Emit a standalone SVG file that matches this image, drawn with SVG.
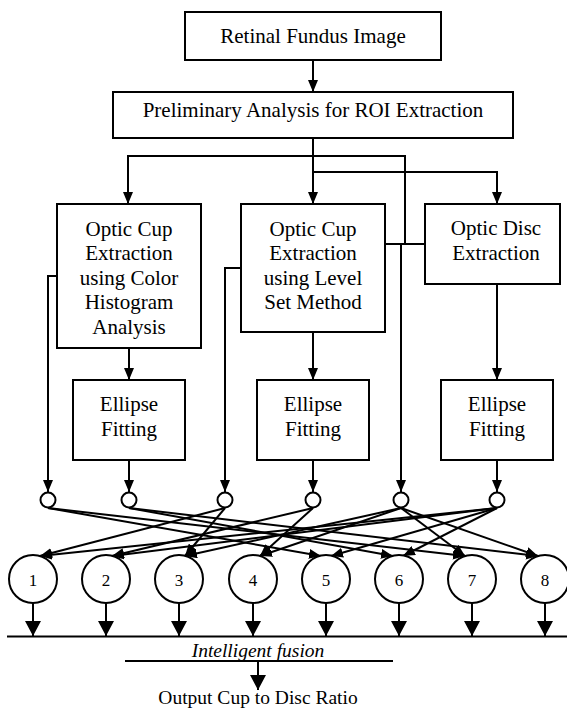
<svg xmlns="http://www.w3.org/2000/svg" width="567" height="709" viewBox="0 0 567 709">
<style>
.box{fill:#fff;stroke:#000;stroke-width:2}
.sc{fill:#fff;stroke:#000;stroke-width:2}
.bc{fill:#fff;stroke:#000;stroke-width:2}
.t{font-family:"Liberation Serif","Times New Roman",serif;font-size:21px;fill:#000;text-anchor:middle}
.n{font-family:"Liberation Serif","Times New Roman",serif;font-size:17px;fill:#000;text-anchor:middle}
.it{font-family:"Liberation Serif","Times New Roman",serif;font-size:19.5px;font-style:italic;fill:#000;text-anchor:middle}
.ln{fill:none;stroke:#000;stroke-width:2}
.a{fill:none;stroke:#000;stroke-width:2;marker-end:url(#ah)}
.ab{fill:none;stroke:#000;stroke-width:2;marker-end:url(#big)}
</style>
<defs>
<marker id="ah" viewBox="0 0 12 10" refX="12" refY="5" markerWidth="12" markerHeight="10" markerUnits="userSpaceOnUse" orient="auto"><path d="M0,0 L12,5 L0,10 z" fill="#000"/></marker>
<marker id="big" viewBox="0 0 15 16" refX="15" refY="8" markerWidth="15" markerHeight="16" markerUnits="userSpaceOnUse" orient="auto"><path d="M0,0 L15,8 L0,16 z" fill="#000"/></marker>
</defs>
<rect width="567" height="709" fill="#fff"/>
<g id="connectors">
<line class="a" x1="313" y1="60" x2="313" y2="92"/>
<line class="a" x1="313" y1="138" x2="313" y2="204"/>
<polyline class="a" points="405,244 405,156 128,156 128,204"/>
<polyline class="a" points="313,172 497,172 497,204"/>
<line class="ln" x1="385" y1="244" x2="425" y2="244"/>
<line class="a" x1="401" y1="244" x2="401" y2="492"/>
<line class="a" x1="129" y1="348" x2="129" y2="380"/>
<line class="a" x1="313" y1="332" x2="313" y2="380"/>
<line class="a" x1="497" y1="284" x2="497" y2="380"/>
<polyline class="a" points="57,276 48,276 48,492"/>
<line class="a" x1="129" y1="460" x2="129" y2="492"/>
<polyline class="a" points="241,268 225,268 225,492"/>
<line class="a" x1="313" y1="460" x2="313" y2="492"/>
<line class="a" x1="497" y1="460" x2="497" y2="492"/>
<line class="a" x1="48" y1="508" x2="321" y2="556"/>
<line class="a" x1="48" y1="508" x2="465" y2="556"/>
<line class="a" x1="129" y1="508" x2="393" y2="556"/>
<line class="a" x1="129" y1="508" x2="538" y2="556"/>
<line class="a" x1="225" y1="508" x2="40" y2="556"/>
<line class="a" x1="225" y1="508" x2="185" y2="556"/>
<line class="a" x1="313" y1="508" x2="112" y2="556"/>
<line class="a" x1="313" y1="508" x2="260" y2="556"/>
<line class="a" x1="401" y1="508" x2="185" y2="556"/>
<line class="a" x1="401" y1="508" x2="260" y2="556"/>
<line class="a" x1="401" y1="508" x2="465" y2="556"/>
<line class="a" x1="401" y1="508" x2="538" y2="556"/>
<line class="a" x1="497" y1="508" x2="40" y2="556"/>
<line class="a" x1="497" y1="508" x2="112" y2="556"/>
<line class="a" x1="497" y1="508" x2="331" y2="556"/>
<line class="a" x1="497" y1="508" x2="403" y2="556"/>
<line class="ab" x1="33" y1="603" x2="33" y2="636"/>
<line class="ab" x1="106" y1="603" x2="106" y2="636"/>
<line class="ab" x1="179" y1="603" x2="179" y2="636"/>
<line class="ab" x1="253" y1="603" x2="253" y2="636"/>
<line class="ab" x1="326" y1="603" x2="326" y2="636"/>
<line class="ab" x1="399" y1="603" x2="399" y2="636"/>
<line class="ab" x1="472" y1="603" x2="472" y2="636"/>
<line class="ab" x1="545" y1="603" x2="545" y2="636"/>
<line class="ln" x1="7" y1="636.5" x2="567" y2="636.5"/>
<line class="ln" x1="125" y1="661" x2="393" y2="661"/>
<line class="ab" x1="258" y1="661" x2="258" y2="690"/>
</g>
<g id="retinal"><rect class="box" x="185" y="12" width="256" height="48"/><text class="t" x="313" y="43">Retinal Fundus Image</text></g>
<g id="roi"><rect class="box" x="113" y="92" width="400" height="46"/><text class="t" x="313" y="117">Preliminary Analysis for ROI Extraction</text></g>
<g id="cup-color"><rect class="box" x="57" y="204" width="144" height="144"/><text class="t" x="129" y="236">Optic Cup</text><text class="t" x="129" y="260">Extraction</text><text class="t" x="129" y="285">using Color</text><text class="t" x="129" y="309">Histogram</text><text class="t" x="129" y="334">Analysis</text></g>
<g id="cup-level"><rect class="box" x="241" y="204" width="144" height="128"/><text class="t" x="313" y="236">Optic Cup</text><text class="t" x="313" y="260">Extraction</text><text class="t" x="313" y="285">using Level</text><text class="t" x="313" y="309">Set Method</text></g>
<g id="disc"><rect class="box" x="425" y="204" width="135" height="80"/><text class="t" x="496" y="235">Optic Disc</text><text class="t" x="496" y="260">Extraction</text></g>
<g id="ellipse1"><rect class="box" x="73" y="380" width="112" height="80"/><text class="t" x="129" y="411">Ellipse</text><text class="t" x="129" y="436">Fitting</text></g>
<g id="ellipse2"><rect class="box" x="257" y="380" width="112" height="80"/><text class="t" x="313" y="411">Ellipse</text><text class="t" x="313" y="436">Fitting</text></g>
<g id="ellipse3"><rect class="box" x="441" y="380" width="112" height="80"/><text class="t" x="497" y="411">Ellipse</text><text class="t" x="497" y="436">Fitting</text></g>
<g id="j1"><circle class="sc" cx="48" cy="500" r="7.5"/></g>
<g id="j2"><circle class="sc" cx="129" cy="500" r="7.5"/></g>
<g id="j3"><circle class="sc" cx="225" cy="500" r="7.5"/></g>
<g id="j4"><circle class="sc" cx="313" cy="500" r="7.5"/></g>
<g id="j5"><circle class="sc" cx="401" cy="500" r="7.5"/></g>
<g id="j6"><circle class="sc" cx="497" cy="500" r="7.5"/></g>
<g id="c1"><circle class="bc" cx="33" cy="579" r="24"/><text class="n" x="33" y="586">1</text></g>
<g id="c2"><circle class="bc" cx="106" cy="579" r="24"/><text class="n" x="106" y="586">2</text></g>
<g id="c3"><circle class="bc" cx="179" cy="579" r="24"/><text class="n" x="179" y="586">3</text></g>
<g id="c4"><circle class="bc" cx="253" cy="579" r="24"/><text class="n" x="253" y="586">4</text></g>
<g id="c5"><circle class="bc" cx="326" cy="579" r="24"/><text class="n" x="326" y="586">5</text></g>
<g id="c6"><circle class="bc" cx="399" cy="579" r="24"/><text class="n" x="399" y="586">6</text></g>
<g id="c7"><circle class="bc" cx="472" cy="579" r="24"/><text class="n" x="472" y="586">7</text></g>
<g id="c8"><circle class="bc" cx="545" cy="579" r="24"/><text class="n" x="545" y="586">8</text></g>
<g id="fusion"><text class="it" x="258" y="657">Intelligent fusion</text></g>
<g id="output"><text class="t" style="font-size:19.5px" x="258" y="704">Output Cup to Disc Ratio</text></g>
</svg>
